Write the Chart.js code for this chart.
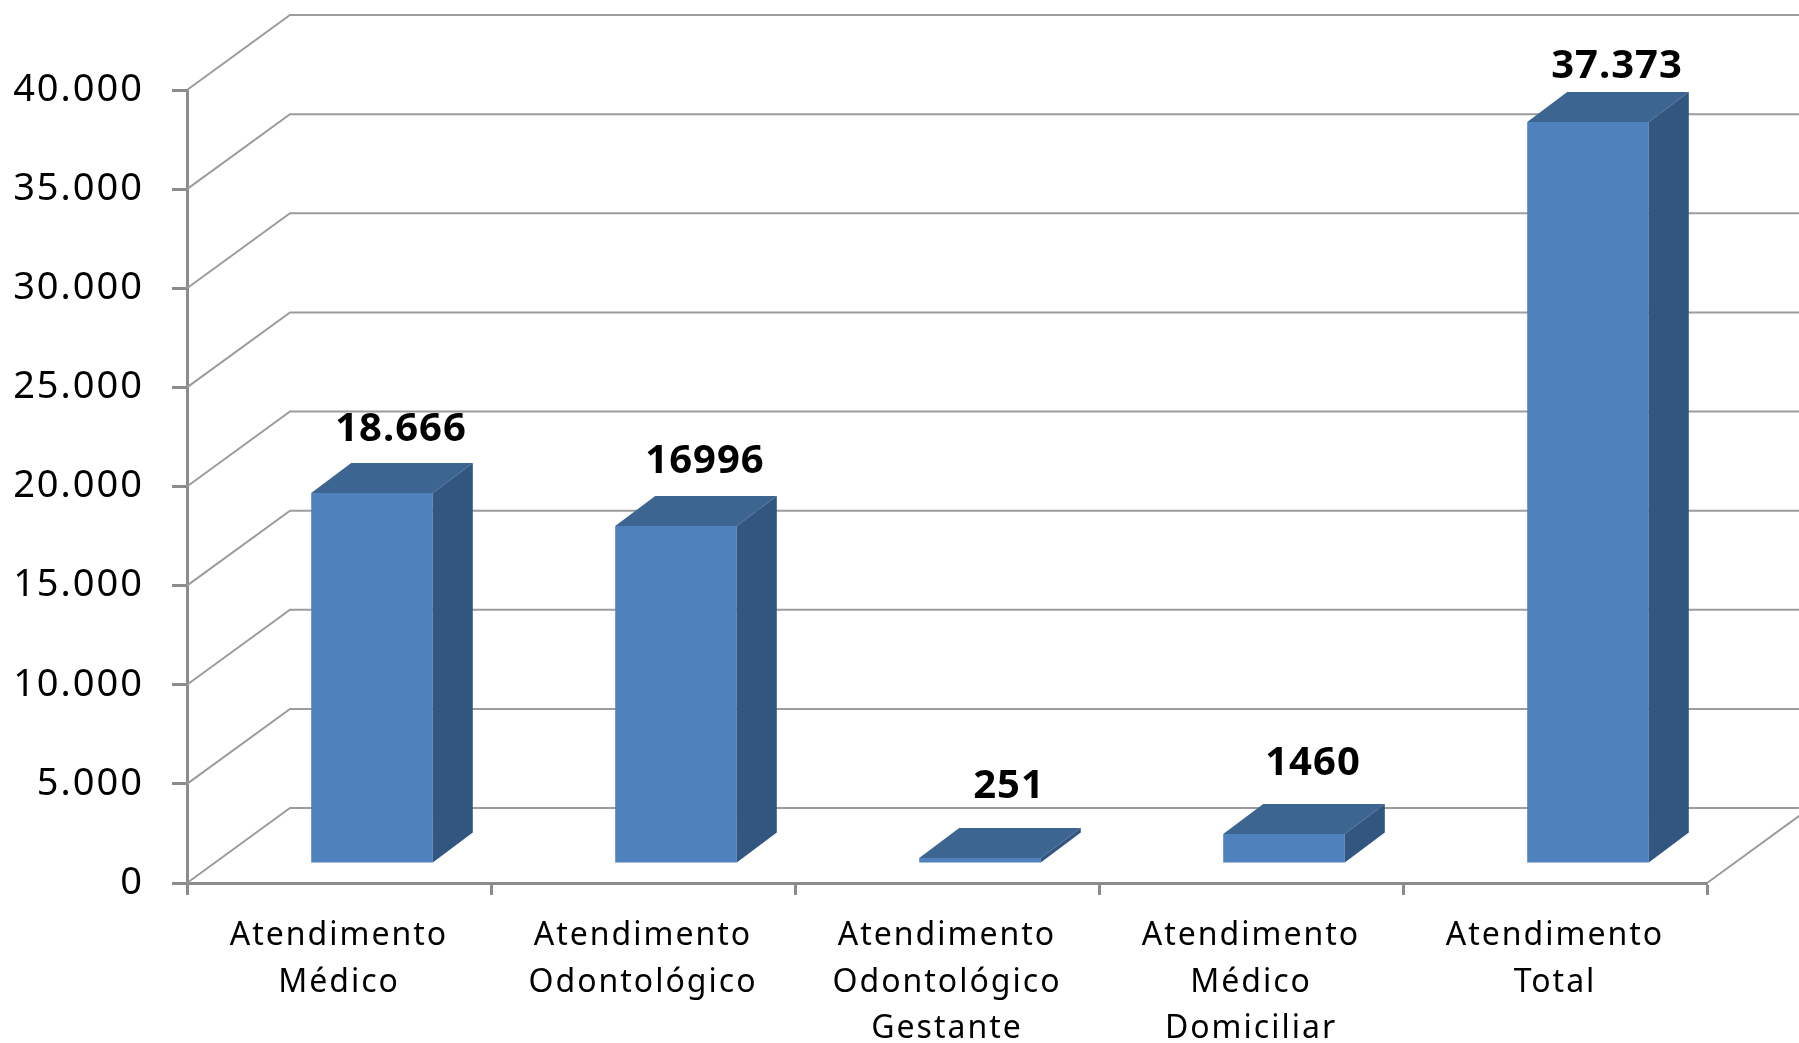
<!DOCTYPE html>
<html>
<head>
<meta charset="utf-8">
<script src="https://cdn.jsdelivr.net/npm/chart.js@4"></script>
<style>
  html, body { margin: 0; padding: 0; background: #fff; }
  canvas { display: block; }
</style>
</head>
<body>
<canvas id="chart" width="1799" height="1043"></canvas>
<script>
// data
var categories = [
    ['Atendimento', 'Médico'],
    ['Atendimento', 'Odontológico'],
    ['Atendimento', 'Odontológico', 'Gestante'],
    ['Atendimento', 'Médico', 'Domiciliar'],
    ['Atendimento', 'Total']
];
var values = [18666, 16996, 251, 1460, 37373];
var valueLabels = ['18.666', '16996', '251', '1460', '37.373'];
var yTickLabels = ['0', '5.000', '10.000', '15.000', '20.000', '25.000', '30.000', '35.000', '40.000'];

// fake 3D look (pixels)
var WALL_X = 103, WALL_Y = -75;     // back wall offset
var BAR_X = 33, BAR_Y = -20;        // bars sit a bit behind the front plane
var DEPTH_X = 40, DEPTH_Y = -30;    // bar depth
var FRONT = '#4f81bd', TOP = '#3d6592', SIDE = '#335681';
var GRID = '#9c9c9c', AXIS = '#8c8c8c';

var threeD = {
    id: 'threeD',
    beforeDraw: function(chart) {
        chart.ctx.letterSpacing = '2px';
    },
    beforeDatasetsDraw: function(chart) {
        var ctx = chart.ctx, y = chart.scales.y, a = chart.chartArea;
        ctx.letterSpacing = '0px';
        ctx.save();
        ctx.strokeStyle = GRID;
        ctx.lineWidth = 2;
        y.ticks.forEach(function(t) {
            var py = y.getPixelForValue(t.value);
            ctx.beginPath();
            ctx.moveTo(a.left, py);
            ctx.lineTo(a.left + WALL_X, py + WALL_Y);
            ctx.lineTo(chart.width, py + WALL_Y);
            ctx.stroke();
        });
        // right edge of the floor
        var p0 = y.getPixelForValue(0);
        ctx.beginPath();
        ctx.moveTo(a.right, p0);
        ctx.lineTo(a.right + WALL_X, p0 + WALL_Y);
        ctx.stroke();
        ctx.restore();

        ctx.save();
        ctx.translate(BAR_X, BAR_Y);
    },
    afterDatasetsDraw: function(chart) {
        var ctx = chart.ctx;
        var bars = chart.getDatasetMeta(0).data;
        bars.forEach(function(b) {
            var x0 = b.x - b.width / 2, x1 = b.x + b.width / 2;
            var yt = b.y, yb = b.base;
            // top face
            ctx.fillStyle = TOP;
            ctx.beginPath();
            ctx.moveTo(x0, yt);
            ctx.lineTo(x0 + DEPTH_X, yt + DEPTH_Y);
            ctx.lineTo(x1 + DEPTH_X, yt + DEPTH_Y);
            ctx.lineTo(x1, yt);
            ctx.closePath();
            ctx.fill();
            // side face
            ctx.fillStyle = SIDE;
            ctx.beginPath();
            ctx.moveTo(x1, yt);
            ctx.lineTo(x1 + DEPTH_X, yt + DEPTH_Y);
            ctx.lineTo(x1 + DEPTH_X, yb + DEPTH_Y);
            ctx.lineTo(x1, yb);
            ctx.closePath();
            ctx.fill();
        });
        ctx.restore();

        // value labels above the bars
        ctx.save();
        ctx.letterSpacing = '1px';
        ctx.font = 'bold 40px "Noto Sans"';
        ctx.fillStyle = '#000';
        ctx.textAlign = 'center';
        ctx.textBaseline = 'middle';
        bars.forEach(function(b, i) {
            ctx.fillText(valueLabels[i], b.x + BAR_X + 29, 0.978 * b.y - 72);
        });
        ctx.restore();
    }
};

new Chart(document.getElementById('chart'), {
    type: 'bar',
    data: {
        labels: categories,
        datasets: [{
            data: values,
            backgroundColor: FRONT,
            borderWidth: 0,
            barPercentage: 0.4,
            categoryPercentage: 1
        }]
    },
    options: {
        responsive: false,
        animation: false,
        devicePixelRatio: 1,
        layout: { padding: { top: 90, right: 92, left: 0, bottom: 0 } },
        plugins: { legend: { display: false }, tooltip: { enabled: false } },
        scales: {
            x: {
                afterFit: function(s) { s.height = 160; },
                grid: { drawOnChartArea: false, drawTicks: true, tickLength: 12, tickColor: AXIS, tickWidth: 3 },
                border: { color: AXIS, width: 3 },
                ticks: {
                    color: '#000',
                    padding: 18,
                    maxRotation: 0,
                    autoSkip: false,
                    font: { family: '"Noto Sans"', size: 32, lineHeight: 1.45 }
                }
            },
            y: {
                min: 0,
                max: 40000,
                afterFit: function(s) { s.width = 187; },
                grid: { drawOnChartArea: false, drawTicks: true, tickLength: 15, tickColor: AXIS, tickWidth: 3 },
                border: { color: AXIS, width: 3 },
                ticks: {
                    stepSize: 5000,
                    color: '#000',
                    padding: 28,
                    font: { family: '"Noto Sans"', size: 38 },
                    callback: function(v, i) { return yTickLabels[i]; }
                }
            }
        }
    },
    plugins: [threeD]
});
</script>
</body>
</html>
